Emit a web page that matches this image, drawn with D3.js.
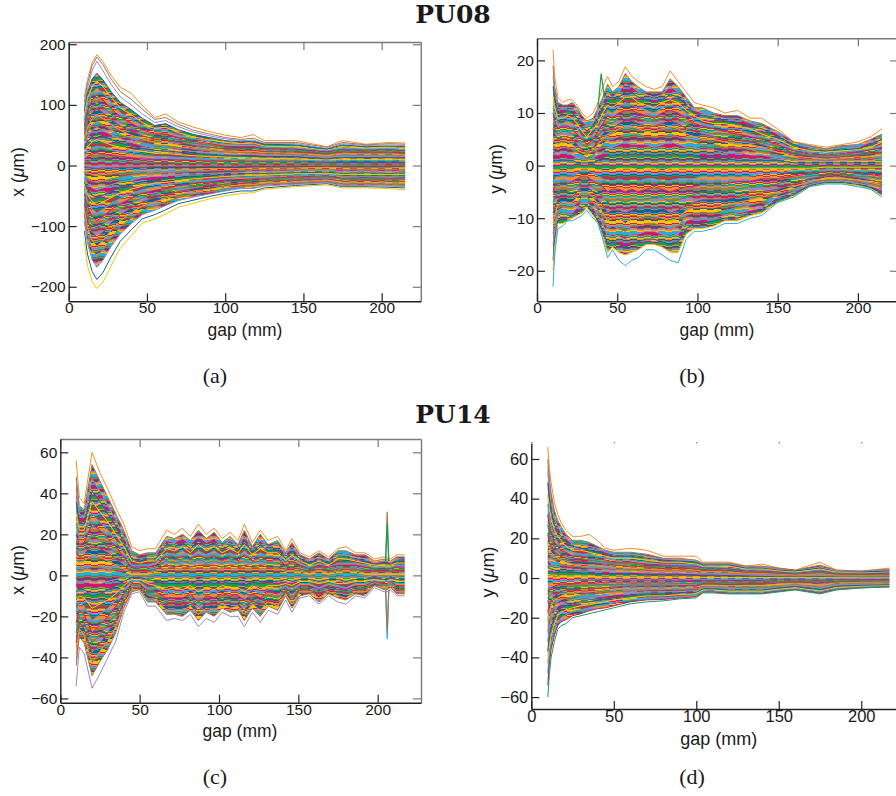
<!DOCTYPE html>
<html>
<head>
  <title>PU08 / PU14 gap scans</title>
  <script src="https://cdn.jsdelivr.net/npm/d3@7"></script>
  <style>
    body { margin: 0; background: #fff; }
    text { font-family: "Liberation Sans", sans-serif; fill: #1a1a1a; }
    .title { font-family: "DejaVu Serif", serif; font-weight: bold; font-size: 25px; text-anchor: middle; }
    .caption { font-family: "Liberation Serif", serif; font-size: 22px; text-anchor: middle; }
  </style>
</head>
<body>
  <svg id="chart" width="896" height="796"></svg>
  <script>
    // Line colours, cycled over the traces
    const palette = ["#f28e2b", "#a5784f", "#9a86c4", "#12628a", "#f6c700", "#29abe2", "#d4146e", "#12a150", "#b23a48"];

    const xTicks = [0, 50, 100, 150, 200];
    const yTicksA = [-200, -100, 0, 100, 200];
    const yTicksB = [-20, -10, 0, 10, 20];
    const yTicksCD = [-60, -40, -20, 0, 20, 40, 60];

    // PU08 x: traces, outermost top to outermost bottom
    const gapA = [10,12,15,18,22,27,33,40,47,55,62,70,80,90,100,110,118,125,145,165,175,190,205,215];
    const tracesA = [
      [113,142,170,183,171,149,129,119,99,79,85,72,63,56,50,46,51,41,41,31,41,35,38,37],
      [104,135,165,179,166,143,122,109,93,76,79,68,58,52,46,43,45,38,38,30,38,34,36,35],
      [96,127,157,172,156,134,113,100,85,71,74,64,55,49,44,41,42,36,36,28,36,33,34,33],
      [90,120,143,152,141,122,104,92,78,66,69,59,51,46,41,39,40,35,34,27,34,31,32,31],
      [82,110,130,139,130,113,95,84,71,61,63,54,47,42,38,36,37,32,31,25,31,29,30,28],
      [74,100,120,128,119,104,87,76,66,57,57,50,44,39,35,34,34,30,29,24,29,27,28,26],
      [66,90,108,116,108,94,80,70,59,52,52,46,40,36,32,31,31,28,27,22,26,25,26,24],
      [59,80,97,104,97,85,72,63,54,47,47,42,37,33,29,28,28,26,25,20,24,23,24,22],
      [52,71,87,94,87,76,65,56,49,43,43,38,33,30,27,26,25,23,22,19,22,21,21,20],
      [46,63,77,84,77,68,58,50,44,38,38,34,30,27,24,23,23,21,20,17,20,19,19,18],
      [40,55,67,73,67,59,51,44,38,34,33,30,27,24,22,21,20,19,18,15,18,17,17,16],
      [34,47,58,63,58,51,44,38,33,29,29,26,23,21,19,18,18,17,16,13,15,15,15,14],
      [28,39,48,53,49,43,37,32,28,25,24,22,20,18,16,16,15,14,14,11,13,13,13,12],
      [22,31,39,43,39,34,30,26,23,20,20,18,16,15,14,13,12,12,11,9,11,10,11,10],
      [16,23,29,32,29,26,22,20,17,15,15,13,12,11,10,10,9,9,9,7,8,8,8,7],
      [10,15,19,21,19,17,15,13,11,10,10,9,8,7,7,6,6,6,6,5,5,5,5,5],
      [5,7,9,10,9,8,7,6,6,5,5,4,4,4,3,3,3,3,3,2,2,2,3,2],
      [-2,-3,-4,-5,-4,-4,-3,-3,-3,-2,-2,-2,-2,-1,-2,-1,-1,-1,-1,-1,-1,-1,-1,-1],
      [-8,-12,-15,-17,-15,-13,-11,-9,-8,-7,-7,-6,-6,-5,-5,-5,-4,-4,-4,-3,-4,-4,-4,-3],
      [-14,-21,-26,-28,-26,-22,-19,-16,-14,-13,-12,-11,-10,-9,-8,-8,-7,-7,-6,-6,-7,-6,-7,-6],
      [-20,-30,-37,-40,-37,-32,-27,-24,-20,-18,-17,-15,-14,-13,-12,-11,-10,-10,-9,-8,-10,-9,-10,-9],
      [-27,-39,-49,-53,-49,-43,-36,-32,-27,-24,-22,-20,-18,-17,-15,-14,-13,-13,-12,-11,-13,-12,-13,-12],
      [-33,-48,-60,-65,-60,-53,-45,-39,-34,-29,-28,-25,-22,-20,-18,-17,-16,-16,-14,-13,-15,-15,-15,-15],
      [-40,-58,-72,-78,-72,-63,-54,-47,-40,-35,-33,-29,-26,-24,-21,-20,-19,-18,-17,-15,-18,-18,-18,-18],
      [-47,-68,-84,-91,-84,-73,-63,-54,-46,-41,-38,-33,-30,-27,-24,-23,-22,-21,-19,-17,-21,-20,-21,-20],
      [-55,-79,-97,-104,-97,-84,-72,-62,-53,-47,-43,-38,-34,-31,-27,-26,-25,-24,-22,-19,-23,-23,-24,-23],
      [-63,-90,-110,-118,-110,-95,-81,-70,-60,-53,-48,-43,-38,-35,-31,-29,-28,-26,-24,-22,-26,-25,-26,-26],
      [-72,-102,-124,-133,-124,-107,-91,-78,-67,-60,-54,-48,-42,-39,-35,-32,-31,-29,-27,-24,-28,-28,-29,-29],
      [-80,-114,-139,-149,-139,-120,-101,-87,-74,-67,-60,-53,-47,-43,-38,-35,-34,-31,-29,-26,-31,-30,-32,-32],
      [-92,-128,-156,-168,-156,-134,-113,-96,-81,-74,-66,-58,-52,-47,-42,-38,-38,-34,-31,-28,-33,-33,-34,-35],
      [-108,-146,-175,-188,-176,-151,-125,-106,-88,-81,-73,-63,-57,-51,-46,-42,-42,-37,-33,-30,-35,-35,-36,-37],
      [-125,-165,-192,-203,-192,-166,-136,-116,-95,-88,-80,-69,-62,-55,-50,-46,-45,-39,-35,-32,-37,-37,-38,-40]
    ];

    // PU08 y
    const gapB = [10,11,13,16,19,22,25,28,31,35,38,41,44,47,51,55,59,63,68,73,78,83,88,93,98,103,110,117,125,133,140,150,160,170,180,190,200,208,215];
    const tracesB = [
      [22,17,13,12,12.5,12.5,11.5,10,9,10,12,15,17,15,16,18.8,17,16,15,14.5,15,18,16,14,12,11.5,11,10,10.5,9,9,7,4.5,4,3.5,4,4.5,5.5,7],
      [19,15,12,11.5,11.5,12,11,9.5,8.5,9,11,13,15.5,14,15,17.5,16,15,14,14,14,16.5,15,13,11,11,10,9.5,9.5,8.5,8,6.5,4.5,3.8,3.2,3.8,4,5,6],
      [17,14,11,11,11,11,10,8.5,7.5,8,10,12,14,13,14,15.5,15,14,13.5,13,13.5,15,14,12,10.5,10,9.5,9,9,8,7.5,6,4,3.5,3,3.5,3.5,4.5,5.5],
      [15,13,10,10,10.5,10,9,7.5,6.5,7.5,9,11,12.5,12.5,13,14,14,13,12.5,12,12.5,13.5,13,11.5,10,9.5,9,8.5,8,7.5,7,5.5,4,3,2.8,3,3.2,4,5],
      [13,11,9,9,9.5,9,8,6.5,5.5,7,8,10,11.5,11,12,13,13,12,11.5,11,12,12.5,12,10.5,9.5,8.5,8,8,7.5,7,6,5,3.5,2.8,2.5,2.8,3,3.5,4.5],
      [11,10,8,8,8.5,8,7,5.5,5,6,7,9,10.5,10,11,12,11.5,11,10.5,10,11,11.5,11,10,8.5,8,7.5,7,7,6,5.5,4.5,3,2.5,2.3,2.5,2.8,3.2,4],
      [10,8.5,7,7.5,7.5,7,6,5,4,5,6.5,8,9.5,9,10,10.5,10.5,10,9.5,9,10,10.5,10,9,8,7.5,7,6.5,6,5.5,5,4,2.8,2.2,2,2.3,2.5,3,3.5],
      [8,7,6,6.5,6.5,6,5,4,3.5,4.5,5.5,7,8,8,9,9.5,9.5,9,8.5,8.5,9,9.5,9,8,7,6.5,6,6,5.5,5,4.5,3.5,2.5,2,1.8,2,2.2,2.6,3],
      [7,6,5,5.5,5.5,5,4,3,2.5,3.5,4.5,6,7,7,8,8.5,8.5,8,7.5,7.5,8,8.5,8,7,6.5,6,5.5,5,5,4.5,4,3,2.2,1.8,1.5,1.7,2,2.2,2.5],
      [5,4.5,4,4.5,4.5,4,3,2.5,2,3,4,5,6,6,7,7.5,7.5,7,6.5,6.5,7,7.5,7,6,5.5,5,5,4.5,4,4,3.5,2.5,1.8,1.5,1.2,1.5,1.7,1.8,2.2],
      [4,3.5,3,3.5,3.5,3,2.5,2,1.5,2,3,4,5,5,5.5,6,6,6,5.5,5.5,5.5,6,5.5,5,4.5,4,4,3.5,3.5,3,2.5,2,1.5,1.2,1,1.2,1.4,1.5,1.8],
      [3,2.5,2,2.5,2.5,2,1.5,1.5,1,1.5,2,2.5,3.5,3.5,4,4.5,4,4,4,3.5,4,4.5,4,3.5,3.5,3,3,2.5,2.5,2,2,1.5,1,1,0.8,1,1,1,1.3],
      [1,1,1,1,1,1,0.5,0.5,0.5,0.5,1,1.5,2,2,2,2.5,2,2.5,2,2,2,2.5,2,2,2,1.5,1.5,1.5,1,1,1,1,0.5,0.5,0.5,0.5,0.5,0.5,0.5],
      [-1,-1,-1,-1,-1,-1,-0.5,-0.5,-0.5,-0.5,-1,-1,-1,-1,-0.5,-0.5,-0.5,-1,-0.5,-0.5,-1,-0.5,-0.5,-0.5,-0.5,-0.5,-0.5,-0.5,-0.5,-0.5,-0.5,-0.5,-0.5,-0.5,-0.3,-0.3,-0.3,-0.3,-0.3],
      [-3,-2.5,-2,-2,-2,-2,-1.5,-1,-1,-1.5,-2,-2.5,-3,-3,-2.5,-3,-3,-3,-2.5,-2.5,-3,-3,-2.5,-2.5,-2.5,-2,-2,-2,-2,-2,-1.5,-1.5,-1,-1,-0.8,-0.8,-1,-1,-1.2],
      [-5,-4,-3.5,-3.5,-3.5,-3,-2.5,-2,-2,-3,-3.5,-4,-5,-4.5,-4.5,-5,-4.5,-5,-4.5,-4,-4.5,-5,-4.5,-4,-4,-3.5,-3.5,-3.5,-3,-3,-2.5,-2.5,-2,-1.5,-1.2,-1.2,-1.5,-1.7,-2],
      [-7,-6,-5,-5,-5,-4.5,-4,-3,-3,-4,-5,-6,-7,-6.5,-6.5,-7,-6.5,-6.5,-6.5,-6,-6,-7,-6.5,-6,-5.5,-5,-5,-5,-4.5,-4,-4,-3.5,-2.5,-2,-1.6,-1.6,-2,-2.2,-2.6],
      [-9,-8,-6.5,-6,-6,-6,-5,-4,-4,-5,-6.5,-7.5,-9,-8.5,-8.5,-9,-8.5,-8,-8,-8,-8,-9,-8.5,-7.5,-7,-6.5,-6.5,-6.5,-6,-5,-5,-4.5,-3.5,-2.5,-2,-2,-2.3,-2.8,-3.2],
      [-11,-9.5,-7.5,-7,-7,-7,-6,-5,-5,-6,-7.5,-9,-10.5,-10,-10,-11,-10,-10,-9.5,-9.5,-10,-10.5,-10,-8.5,-8,-8,-8,-7.5,-7,-6.5,-6,-5,-4,-3,-2.3,-2.3,-2.7,-3.2,-3.8],
      [-13,-11,-8.5,-8,-8,-8,-7,-6,-6,-7,-8.5,-10,-12,-11.5,-12,-12.5,-11.5,-11.5,-11,-11,-11.5,-12,-11.5,-9.5,-9,-9,-9,-8.5,-8,-7.5,-7,-5.5,-4.5,-3.3,-2.7,-2.6,-3,-3.6,-4.2],
      [-15,-12.5,-9.5,-9,-9,-9,-8,-7,-7,-8,-9.5,-11,-13.5,-13,-13.5,-14,-13,-13,-12.5,-12.5,-13,-13.5,-13,-10.5,-10,-10,-10,-9.5,-9,-8.5,-8,-6,-5,-3.6,-3,-2.9,-3.3,-3.9,-4.7],
      [-18,-14,-10.5,-10,-10,-9.5,-9,-8,-7.5,-9,-10.5,-12.5,-15,-14.5,-15,-15.5,-15,-14.5,-14,-14,-14.5,-15,-14.5,-12,-11,-11,-10.5,-10,-10,-9,-8.5,-6.5,-5.5,-3.8,-3.2,-3.2,-3.6,-4.2,-5.2],
      [-20,-15.5,-11,-11,-10.5,-10,-9.5,-9,-8,-9.5,-11,-13.5,-16.5,-15.5,-16.5,-17,-16.5,-16,-15,-15,-15.5,-16.5,-16.5,-13,-12,-12,-11.5,-10.5,-10.5,-9.5,-9,-7,-5.8,-4,-3.4,-3.4,-3.8,-4.4,-5.7],
      [-23,-17,-12,-11.5,-10.5,-10.5,-10,-9.5,-8.5,-10,-11,-14,-17.5,-16,-18,-19,-18,-17.5,-16,-16,-17,-18,-18.5,-14,-12.5,-12.5,-12,-11,-11,-10,-9.5,-7,-6,-4,-3.5,-3.5,-4,-4.5,-6]
    ];
    const spikeGapB = [38, 40, 42];
    const spikeB = [[11, 17.5, 13]];

    // PU14 x
    const gapC = [10,12,15,20,25,30,35,40,45,50,55,60,67,72,77,82,87,92,97,102,107,112,116,121,126,131,137,142,146,151,157,163,169,175,180,186,192,198,204,206,208,212,217];
    const tracesC = [
      [56,38,35,60,50,42,33,25,14,12,13,13,22,20,23,19,25,20,23,18,21,17,25,16,22,17,19,12,18,11,9,12,9,13,14,11,11,8,9,9,8,10,10],
      [48,34,32,54,46,38,30,22,12,10,11,11,19,18,20,17,22,18,21,16,19,15,22,14,20,15,17,11,16,10,8,11,8,12,12,10,10,7,8,8,7,9,9],
      [42,30,28,47,41,34,27,19,10,8,9,10,17,16,18,15,19,16,18,14,17,14,19,13,17,14,15,10,14,9,7,9,7,10,10,9,8,6,7,7,6,8,8],
      [36,26,25,41,36,30,24,16,8,7,8,8,15,14,16,13,17,14,16,12,15,12,17,11,15,12,13,8,12,8,6,8,6,9,9,8,7,5,6,6,5,7,7],
      [30,22,22,36,31,26,20,14,7,6,7,7,13,12,14,11,15,12,14,11,13,11,15,10,13,11,11,7,10,7,5,7,5,8,8,7,6,5,5,5,5,6,6],
      [25,18,19,30,26,22,17,11,5,5,5,6,11,10,12,9,12,10,12,9,11,9,12,8,11,9,9,6,9,6,4,6,4,6,6,6,5,4,4,4,4,5,5],
      [20,15,16,25,22,18,14,9,4,4,4,5,9,8,9,8,10,8,9,7,9,7,10,7,9,7,8,5,7,5,3,5,4,5,5,5,4,3,3,3,3,4,4],
      [16,12,13,20,17,14,11,7,3,3,3,4,7,6,7,6,8,6,7,6,7,6,7,6,7,6,6,4,6,4,3,4,3,4,4,4,3,3,3,3,2,3,3],
      [12,9,10,15,13,11,8,5,2,2,2,3,5,4,5,4,5,5,5,4,5,4,5,4,5,4,4,3,4,3,2,3,2,3,3,3,2,2,2,2,2,2,2],
      [8,6,7,10,9,7,5,3,1,1,1,2,3,3,3,3,3,3,3,3,3,3,3,3,3,3,3,2,2,2,1,2,1,2,2,2,1,1,1,1,1,1,1],
      [3,2,3,4,4,3,2,1,0,0,0,1,1,1,1,1,1,1,1,1,1,1,1,1,1,1,1,1,1,1,0,1,0,1,1,1,0,0,0,0,0,0,0],
      [-3,-3,-3,-4,-4,-3,-2,-1,0,-1,-1,-1,-1,-1,-1,-1,-2,-1,-1,-1,-1,-1,-2,-1,-1,-1,-1,-1,-1,-1,-1,-1,-1,-1,-1,-1,-1,0,-1,-1,0,-1,-1],
      [-8,-6,-7,-10,-9,-7,-5,-3,-1,-1,-2,-3,-4,-4,-4,-3,-5,-3,-4,-3,-4,-4,-5,-3,-4,-3,-3,-2,-3,-2,-2,-3,-2,-2,-3,-2,-2,-1,-2,-2,-1,-2,-2],
      [-13,-10,-11,-16,-14,-12,-9,-5,-2,-2,-4,-5,-7,-6,-7,-5,-8,-6,-7,-5,-6,-6,-8,-5,-7,-5,-5,-4,-5,-3,-3,-4,-3,-4,-4,-3,-3,-2,-3,-3,-2,-3,-3],
      [-18,-13,-15,-22,-19,-16,-12,-7,-3,-3,-6,-6,-9,-8,-9,-7,-10,-8,-9,-7,-8,-8,-10,-7,-9,-7,-7,-5,-7,-4,-4,-6,-4,-5,-6,-4,-4,-3,-3,-3,-3,-4,-4],
      [-23,-17,-19,-28,-24,-20,-15,-9,-4,-4,-8,-8,-11,-11,-11,-9,-13,-10,-11,-9,-10,-10,-12,-9,-11,-8,-9,-6,-9,-5,-5,-7,-5,-6,-7,-5,-5,-3,-4,-4,-3,-5,-5],
      [-28,-20,-23,-33,-29,-24,-19,-11,-5,-5,-9,-10,-13,-13,-13,-11,-15,-12,-13,-11,-12,-12,-15,-11,-13,-10,-11,-7,-11,-6,-6,-8,-6,-7,-8,-6,-6,-4,-5,-5,-4,-6,-6],
      [-33,-23,-26,-38,-33,-28,-22,-13,-6,-6,-10,-11,-15,-15,-15,-13,-17,-14,-15,-13,-14,-14,-17,-12,-15,-12,-13,-8,-12,-7,-7,-10,-7,-8,-9,-7,-7,-4,-6,-6,-5,-7,-7],
      [-38,-26,-29,-43,-37,-32,-25,-15,-7,-7,-12,-12,-17,-17,-17,-15,-19,-16,-17,-14,-16,-15,-19,-14,-17,-13,-15,-9,-14,-8,-8,-11,-8,-10,-11,-8,-8,-5,-6,-6,-5,-8,-8],
      [-44,-30,-33,-49,-42,-36,-28,-16,-8,-7,-13,-13,-19,-19,-20,-17,-22,-18,-20,-16,-18,-17,-22,-16,-20,-15,-17,-10,-16,-10,-9,-13,-9,-11,-12,-9,-10,-5,-7,-7,-6,-9,-9],
      [-54,-35,-38,-55,-48,-40,-32,-18,-9,-8,-15,-15,-22,-21,-22,-19,-25,-21,-23,-18,-20,-20,-25,-18,-23,-17,-19,-12,-18,-11,-10,-14,-10,-13,-14,-10,-11,-6,-8,-8,-7,-10,-10]
    ];
    const spikeGapC = [205, 206, 207];
    const spikeC = [[7, 31, 7], [7, 25, 7], [-7, -31, -7], [-7, -27, -7]];

    // PU14 y
    const gapD = [10,11,12,14,16,18,21,25,30,35,40,45,50,60,70,80,90,100,104,110,120,130,140,150,160,175,185,200,217];
    const tracesD = [
      [66,55,48,38,32,28,24,21,21,22,19,15,14,15,14,11,11,11,8,8,8,6,7,5,4,8,4,3.5,5],
      [60,50,43,34,29,26,22,19,19,18,16,14,13,13,12,10,10,9,7.5,7.5,7.5,6,6,5,4,6.5,4,3.5,4.5],
      [54,45,38,30,26,23,20,17,17,16,15,13,12,12,11,9.5,9,8.5,7,7,7,5.5,5.5,4.5,3.5,5.5,3.5,3,4],
      [48,40,34,27,23,21,18,16,15,14,13,12,11,11,10,9,8.5,8,6.5,6.5,6.5,5,5,4,3.5,5,3,3,3.5],
      [42,35,30,24,21,19,16,14,14,13,12,11,10,10,9,8,8,7,6,6,6,4.5,4.5,3.5,3,4.5,3,2.5,3],
      [37,30,26,21,18,16,14,13,12,12,11,10,9,9,8,7,7,6.5,5.5,5.5,5,4,4,3,2.5,4,2.5,2.5,2.7],
      [32,26,23,18,16,14,13,11,11,10,10,9,8,8,7,6.5,6,6,5,5,4.5,3.5,3.5,3,2.3,3.5,2.2,2,2.4],
      [27,22,19,16,14,12,11,10,10,9,8.5,8,7,7,6,6,5.5,5,4.5,4.5,4,3,3,2.5,2,3,2,1.8,2],
      [22,18,16,13,12,11,10,8.5,8.5,8,7.5,7,6.5,6,5.5,5,5,4.5,3.8,3.8,3.5,2.8,2.8,2.2,1.8,2.6,1.7,1.5,1.7],
      [18,15,13,11,10,9,8,7,7,6.5,6.5,6,5.5,5,4.5,4,4,4,3.2,3.2,3,2.4,2.3,1.8,1.5,2.2,1.4,1.2,1.4],
      [14,12,10,9,8,7,6.5,6,5.5,5,5,4.5,4.5,4,3.5,3.5,3.5,3,2.6,2.6,2.4,2,1.9,1.5,1.2,1.7,1.1,1,1.1],
      [10,8,7,6.5,6,5,5,4.5,4,4,3.5,3.5,3,3,2.5,2.5,2.5,2.2,2,2,1.8,1.5,1.4,1.1,0.9,1.2,0.8,0.7,0.8],
      [6,5,4.5,4,3.5,3,3,3,2.5,2.5,2,2,2,2,1.5,1.5,1.5,1.3,1.2,1.2,1,0.9,0.8,0.6,0.5,0.7,0.5,0.4,0.5],
      [2,1.5,1.5,1.5,1,1,1,1,1,1,0.5,0.5,0.5,0.5,0.5,0.5,0.5,0.5,0.4,0.4,0.3,0.3,0.3,0.2,0.2,0.2,0.2,0.1,0.1],
      [-3,-2.5,-2,-2,-1.5,-1.5,-1.5,-1.5,-1,-1,-1,-1,-1,-1,-1,-1,-1,-0.8,-0.7,-0.7,-0.6,-0.6,-0.6,-0.5,-0.5,-0.6,-0.4,-0.4,-0.4],
      [-8,-6,-5,-4,-3.5,-3,-3,-3,-2.5,-2.5,-2.5,-2,-2,-2,-2,-2,-1.8,-1.7,-1.4,-1.4,-1.3,-1.2,-1.2,-1,-1,-1.2,-0.9,-0.8,-0.8],
      [-12,-9,-8,-6.5,-5.5,-5,-4.5,-4.5,-4,-4,-3.5,-3.5,-3.5,-3,-3,-3,-2.8,-2.7,-2.1,-2.1,-2.2,-2,-2,-1.7,-1.5,-1.9,-1.4,-1.2,-1.2],
      [-17,-13,-11,-9,-8,-7,-6,-6,-5.5,-5.5,-5,-5,-4.5,-4,-4,-4,-3.8,-3.6,-2.8,-2.8,-3,-2.8,-2.8,-2.4,-2,-2.6,-1.9,-1.7,-1.6],
      [-22,-17,-14,-11,-10,-9,-8,-8,-7,-7,-6.5,-6,-5.5,-5,-5,-5,-4.7,-4.5,-3.5,-3.5,-3.8,-3.6,-3.6,-3,-2.6,-3.4,-2.5,-2.2,-2],
      [-27,-21,-18,-14,-12,-11,-10,-9.5,-8.5,-8,-8,-7.5,-7,-6.5,-6,-6,-5.7,-5.5,-4.2,-4.2,-4.6,-4.4,-4.4,-3.8,-3.2,-4.2,-3,-2.7,-2.5],
      [-32,-25,-21,-17,-14,-13,-12,-11,-10,-10,-9.5,-9,-8.5,-7.5,-7,-7,-6.6,-6.4,-4.8,-4.8,-5.3,-5.2,-5.2,-4.5,-3.8,-5,-3.6,-3.2,-3],
      [-37,-29,-25,-20,-17,-15,-14,-13,-12,-12,-11,-10.5,-10,-9,-8,-8,-7.5,-7.2,-5.4,-5.4,-6,-6,-6,-5,-4.4,-5.8,-4.2,-3.7,-3.5],
      [-43,-34,-29,-23,-19,-17.5,-16,-15,-14,-13.5,-12.5,-12,-11,-10,-9,-9,-8.3,-8,-6,-6,-6.6,-6.6,-6.6,-5.6,-4.9,-6.5,-4.8,-4.2,-3.9],
      [-48,-38,-33,-26,-22,-20,-18.5,-17,-16,-15,-14,-13.5,-12.5,-11,-10,-10,-9.2,-8.8,-6.6,-6.6,-7.2,-7.2,-7.2,-6.2,-5.4,-7.1,-5.3,-4.6,-4.2],
      [-54,-43,-36,-29,-24,-22,-21,-19,-18,-16.5,-15.5,-15,-14,-12,-11,-10.8,-10,-9.4,-7.1,-7.1,-7.7,-7.7,-7.7,-6.7,-5.8,-7.6,-5.7,-4.9,-4.4],
      [-60,-48,-40,-32,-26,-24,-23,-20,-19,-18,-17,-16,-15,-13,-12,-11.5,-10.5,-10,-7.5,-7.5,-8,-8,-8,-7,-6,-8,-6,-5,-4.5]
    ];

    const svg = d3.select("#chart");

    // Fine striped fill for the bundle: one pattern per palette colour, that colour
    // takes the first rows and the others cycle after it, second column steps one row
    const defs = svg.append("defs");
    const rowOrder = [0, 0, 0, 2, 5, 1, 7, 3, 6, 4, 8];
    palette.forEach((c, p) => {
      const tile = defs.append("pattern").attr("id", "stripe" + p)
        .attr("patternUnits", "userSpaceOnUse")
        .attr("width", 14).attr("height", rowOrder.length);
      rowOrder.forEach((r, row) => {
        [0, 1].forEach(col => {
          tile.append("rect")
            .attr("x", col * 7).attr("width", 7).attr("height", 1)
            .attr("y", (row + col) % rowOrder.length)
            .attr("fill", palette[(p + r) % palette.length]);
        });
      });
    });

    function drawPanel(o) {
      const x = d3.scaleLinear().domain(o.xDomain).range(o.xRange);
      const y = d3.scaleLinear().domain(o.yDomain).range(o.yRange);
      const g = svg.append("g");

      // Fill between neighbouring traces so the bundle reads as solid, outermost ones stay open
      o.traces.forEach((row, k) => {
        const next = o.traces[k + 1];
        if (!next || k < o.openTop || k >= o.traces.length - 1 - o.openBottom) return;
        const band = d3.area()
          .defined((d, i) => next[i] !== undefined)
          .x((d, i) => x(o.gap[i]))
          .y0(d => y(d))
          .y1((d, i) => y(next[i]));
        g.append("path").attr("d", band(row))
          .attr("fill", `url(#stripe${(k + 4) % palette.length})`);
      });

      const line = d3.line().x((d, i) => x(o.gap[i])).y(d => y(d));
      o.traces.forEach((row, k) => {
        g.append("path").attr("d", line(row))
          .attr("fill", "none")
          .attr("stroke", palette[k % palette.length])
          .attr("stroke-width", 1);
      });

      // Single spikes that stick out of the bundle
      if (o.spikes) {
        const spikeLine = d3.line().x((d, i) => x(o.spikeGap[i])).y(d => y(d));
        o.spikes.forEach((row, k) => {
          g.append("path").attr("d", spikeLine(row))
            .attr("fill", "none")
            .attr("stroke", o.spikeColors[k])
            .attr("stroke-width", 1.2);
        });
      }

      const fmt = d => String(d).replace("-", "\u2212");
      const style = (sel, color) => {
        sel.selectAll("path").attr("stroke", color).attr("stroke-width", 1.4);
        sel.selectAll("line").attr("stroke", color).attr("stroke-width", 1.2);
        sel.selectAll("text").attr("font-size", o.fontSize).attr("fill", "#1a1a1a")
          .attr("font-family", "'Liberation Sans', sans-serif");
      };
      const [yBottom, yTop] = o.yRange;
      const [xLeft, xRight] = o.xRange;

      if (o.closed) {
        g.append("g").attr("transform", `translate(0,${yTop})`)
          .call(d3.axisTop(x).tickValues(o.xTicks).tickSize(-8).tickSizeOuter(0).tickFormat(""))
          .call(style, "#7a7a7a");
        g.append("g").attr("transform", `translate(${xRight},0)`)
          .call(d3.axisRight(y).tickValues(o.yTicks).tickSize(-8).tickSizeOuter(0).tickFormat(""))
          .call(style, "#7a7a7a");
      } else {
        // panel d only shows specks of its top ticks
        g.append("g").attr("transform", `translate(0,${yTop})`)
          .call(d3.axisTop(x).tickValues(o.xTicks).tickSize(1).tickSizeOuter(0).tickFormat(""))
          .call(style, "#444").call(a => a.select("path").remove());
      }
      g.append("g").attr("transform", `translate(0,${yBottom})`)
        .call(d3.axisBottom(x).tickValues(o.xTicks).tickSize(-8).tickSizeOuter(0).tickPadding(o.xPad).tickFormat(fmt))
        .call(style, "#222");
      g.append("g").attr("transform", `translate(${xLeft},0)`)
        .call(d3.axisLeft(y).tickValues(o.yTicks).tickSize(-8).tickSizeOuter(0).tickPadding(3).tickFormat(fmt))
        .call(style, "#222");

      g.append("text").attr("x", o.xLabel[0]).attr("y", o.xLabel[1])
        .attr("text-anchor", "middle").attr("font-size", o.labelSize).text("gap (mm)");
      const yl = g.append("text")
        .attr("transform", `translate(${o.yLabel[0]},${o.yLabel[1]}) rotate(-90)`)
        .attr("text-anchor", "middle").attr("font-size", o.labelSize);
      yl.append("tspan").text(o.name + " (");
      yl.append("tspan").attr("font-style", "italic").text("\u03bc");
      yl.append("tspan").text("m)");
      svg.append("text").attr("class", "caption").attr("x", o.caption[0]).attr("y", o.caption[1]).text(o.captionText);
    }

    drawPanel({ name: "x", gap: gapA, traces: tracesA, xTicks, yTicks: yTicksA, closed: true, fontSize: 15.5, labelSize: 17.5, xPad: 1,
      openTop: 3, openBottom: 2,
      xDomain: [0, 225], xRange: [68.7, 420.8], yDomain: [-224, 203.7], yRange: [301.3, 42],
      xLabel: [245, 336], yLabel: [24, 172], caption: [215, 383], captionText: "(a)" });
    drawPanel({ name: "y", gap: gapB, traces: tracesB, xTicks, yTicks: yTicksB, closed: true, fontSize: 15.5, labelSize: 17.5, xPad: 1,
      openTop: 1, openBottom: 1,
      xDomain: [0, 225], xRange: [537, 898], yDomain: [-25.8, 24.2], yRange: [301.3, 38.3],
      xLabel: [717, 336], yLabel: [502, 169], caption: [692, 383], captionText: "(b)",
      spikeGap: spikeGapB, spikes: spikeB, spikeColors: ["#12a150"] });
    drawPanel({ name: "x", gap: gapC, traces: tracesC, xTicks, yTicks: yTicksCD, closed: true, fontSize: 15.5, labelSize: 17.5, xPad: 1,
      openTop: 1, openBottom: 1,
      xDomain: [0, 227.3], xRange: [60.3, 421], yDomain: [-62.1, 66.5], yRange: [702.7, 439],
      xLabel: [240, 737], yLabel: [24, 570], caption: [215, 784], captionText: "(c)",
      spikeGap: spikeGapC, spikes: spikeC, spikeColors: ["#a5784f", "#12a150", "#29abe2", "#a5784f"] });
    drawPanel({ name: "y", gap: gapD, traces: tracesD, xTicks, yTicks: yTicksCD, closed: false, fontSize: 16.5, labelSize: 18, xPad: 1,
      openTop: 1, openBottom: 1,
      xDomain: [0, 225], xRange: [531.3, 902.5], yDomain: [-66, 67.9], yRange: [709, 443.3],
      xLabel: [718.7, 745], yLabel: [494, 572], caption: [692, 784], captionText: "(d)" });

    svg.append("text").attr("class", "title").attr("x", 453).attr("y", 23).text("PU08");
    svg.append("text").attr("class", "title").attr("x", 453).attr("y", 423).text("PU14");
  </script>
</body>
</html>
